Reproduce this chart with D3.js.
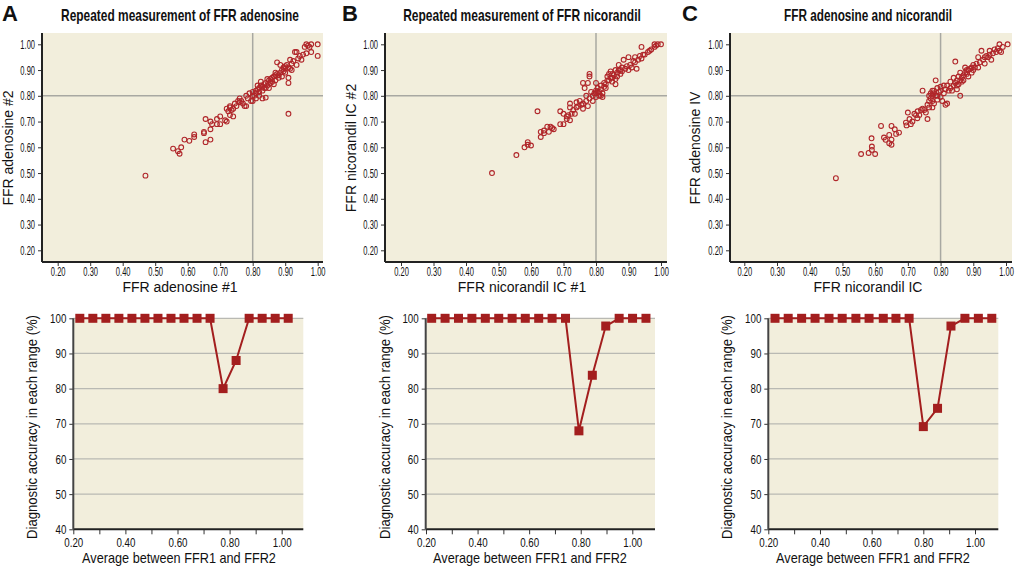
<!DOCTYPE html>
<html>
<head>
<meta charset="utf-8">
<script src="https://cdn.jsdelivr.net/npm/d3@7"></script>
<style>
  body { margin: 0; background: #fff; }
  svg text { fill: #111; }
  .tick text { font-family: 'Liberation Sans', Arial, sans-serif; font-size: 13px; }
  .axlabel { font-family: 'Liberation Sans', Arial, sans-serif; font-size: 14px; }
  .title { font-family: 'Liberation Sans', Arial, sans-serif; font-weight: bold; font-size: 16px; }
  .letter { font-family: 'Liberation Sans', Arial, sans-serif; font-weight: bold; font-size: 22px; }
</style>
</head>
<body>
<svg id="chart" width="1015" height="573"></svg>
<script>
// panel A - adenosine #1 vs #2
const adenosinePairs = [
  [0.47,0.49],[0.555,0.595],[0.57,0.585],[0.575,0.575],[0.58,0.60],[0.59,0.63],[0.605,0.625],[0.62,0.64],
  [0.62,0.65],[0.65,0.655],[0.65,0.66],[0.655,0.62],[0.655,0.71],[0.67,0.63],[0.67,0.67],[0.67,0.70],
  [0.675,0.69],[0.69,0.71],[0.69,0.69],[0.70,0.72],[0.70,0.69],[0.715,0.705],[0.72,0.70],[0.72,0.75],
  [0.725,0.74],[0.73,0.725],[0.73,0.755],[0.735,0.745],[0.74,0.75],[0.74,0.72],[0.75,0.76],[0.755,0.78],
  [0.76,0.775],[0.765,0.78],[0.77,0.77],[0.775,0.76],[0.78,0.76],[0.78,0.80],[0.785,0.79],[0.79,0.81],
  [0.795,0.78],[0.80,0.78],[0.80,0.815],[0.805,0.80],[0.81,0.82],[0.81,0.81],[0.815,0.825],[0.815,0.84],
  [0.82,0.83],[0.82,0.80],[0.825,0.855],[0.83,0.835],[0.83,0.82],[0.83,0.79],[0.835,0.845],[0.84,0.793],
  [0.84,0.83],[0.84,0.85],[0.845,0.84],[0.85,0.86],[0.85,0.83],[0.855,0.865],[0.86,0.87],[0.86,0.855],
  [0.865,0.875],[0.865,0.845],[0.87,0.88],[0.87,0.86],[0.875,0.93],[0.875,0.885],[0.88,0.88],[0.88,0.87],
  [0.885,0.89],[0.885,0.92],[0.89,0.90],[0.89,0.875],[0.895,0.91],[0.895,0.895],[0.90,0.905],[0.90,0.915],
  [0.90,0.89],[0.905,0.92],[0.91,0.91],[0.91,0.85],[0.91,0.87],[0.91,0.73],[0.915,0.94],[0.915,0.905],
  [0.92,0.925],[0.92,0.90],[0.925,0.935],[0.93,0.97],[0.935,0.97],[0.935,0.92],[0.94,0.945],[0.945,0.955],
  [0.95,0.94],[0.955,0.96],[0.96,0.99],[0.965,0.965],[0.965,1.0],[0.97,0.995],[0.975,0.99],[0.98,1.0],
  [0.98,0.97],[1.0,1.0],[1.0,0.955],[0.825,0.84],[0.835,0.83],[0.845,0.865],[0.855,0.85],[0.87,0.89],
  [0.80,0.80],[0.81,0.79],[0.82,0.815],[0.76,0.79],[0.745,0.77],[0.73,0.76]
]

// panel B - nicorandil IC #1 vs #2
const nicorandilPairs = [
  [0.48,0.50],[0.555,0.57],[0.58,0.60],[0.59,0.62],[0.59,0.61],[0.60,0.607],[0.62,0.74],[0.63,0.64],
  [0.63,0.66],[0.64,0.665],[0.64,0.655],[0.65,0.68],[0.655,0.66],[0.66,0.68],[0.665,0.675],[0.67,0.67],
  [0.69,0.74],[0.69,0.69],[0.70,0.69],[0.70,0.73],[0.71,0.72],[0.71,0.71],[0.715,0.725],[0.72,0.705],
  [0.72,0.77],[0.72,0.755],[0.725,0.73],[0.73,0.745],[0.735,0.73],[0.74,0.755],[0.74,0.775],[0.745,0.76],
  [0.75,0.78],[0.755,0.765],[0.76,0.75],[0.76,0.77],[0.76,0.85],[0.765,0.83],[0.77,0.78],[0.77,0.80],
  [0.775,0.76],[0.775,0.85],[0.78,0.875],[0.78,0.885],[0.78,0.79],[0.785,0.815],[0.79,0.78],[0.79,0.80],
  [0.795,0.81],[0.80,0.82],[0.80,0.85],[0.80,0.795],[0.805,0.83],[0.81,0.80],[0.81,0.815],[0.815,0.84],
  [0.815,0.825],[0.82,0.795],[0.82,0.81],[0.825,0.85],[0.83,0.83],[0.83,0.845],[0.835,0.875],[0.84,0.86],
  [0.84,0.885],[0.845,0.87],[0.845,0.895],[0.85,0.87],[0.85,0.855],[0.855,0.88],[0.86,0.845],[0.86,0.90],
  [0.865,0.875],[0.865,0.89],[0.87,0.92],[0.87,0.90],[0.875,0.885],[0.88,0.91],[0.88,0.895],[0.885,0.94],
  [0.89,0.905],[0.895,0.915],[0.90,0.95],[0.90,0.90],[0.905,0.92],[0.91,0.91],[0.915,0.935],[0.92,0.95],
  [0.92,0.93],[0.925,0.905],[0.93,0.94],[0.935,0.955],[0.94,0.99],[0.94,0.945],[0.945,0.96],[0.95,0.96],
  [0.96,0.97],[0.965,0.975],[0.97,0.98],[0.98,1.0],[0.98,0.99],[0.985,0.995],[0.99,1.0],[1.0,1.0],
  [0.805,0.815],[0.815,0.80],[0.825,0.835],[0.835,0.86],[0.85,0.885],[0.86,0.865],[0.875,0.90],[0.80,0.81]
]

// panel C - nicorandil IC vs adenosine IV
const comparisonPairs = [
  [0.48,0.48],[0.557,0.574],[0.58,0.578],[0.59,0.59],[0.59,0.603],[0.60,0.574],[0.589,0.635],[0.618,0.683],
  [0.627,0.638],[0.632,0.629],[0.643,0.648],[0.643,0.616],[0.65,0.63],[0.65,0.61],[0.65,0.683],[0.66,0.67],
  [0.664,0.652],[0.673,0.657],[0.694,0.696],[0.696,0.685],[0.70,0.735],[0.705,0.71],[0.709,0.69],[0.714,0.70],
  [0.72,0.73],[0.725,0.725],[0.729,0.713],[0.73,0.74],[0.735,0.725],[0.74,0.745],[0.745,0.75],[0.745,0.82],
  [0.75,0.745],[0.755,0.735],[0.76,0.765],[0.76,0.71],[0.765,0.755],[0.765,0.78],[0.77,0.79],[0.77,0.81],
  [0.775,0.755],[0.775,0.80],[0.78,0.82],[0.78,0.77],[0.785,0.86],[0.785,0.80],[0.79,0.83],[0.79,0.785],
  [0.795,0.815],[0.80,0.835],[0.80,0.795],[0.805,0.78],[0.81,0.81],[0.81,0.84],[0.815,0.765],[0.815,0.825],
  [0.82,0.77],[0.82,0.84],[0.825,0.82],[0.83,0.83],[0.83,0.855],[0.835,0.82],[0.84,0.87],[0.84,0.84],
  [0.845,0.933],[0.845,0.85],[0.85,0.86],[0.85,0.825],[0.855,0.875],[0.855,0.845],[0.86,0.86],[0.86,0.80],
  [0.86,0.89],[0.865,0.87],[0.87,0.88],[0.87,0.86],[0.875,0.89],[0.875,0.91],[0.88,0.885],[0.885,0.875],
  [0.885,0.90],[0.89,0.905],[0.895,0.89],[0.90,0.92],[0.90,0.90],[0.905,0.91],[0.91,0.925],[0.915,0.95],
  [0.915,0.91],[0.92,0.93],[0.925,0.975],[0.93,0.94],[0.935,0.95],[0.935,0.925],[0.94,0.955],[0.945,0.95],
  [0.95,0.975],[0.95,0.96],[0.955,0.94],[0.96,0.965],[0.965,0.98],[0.97,0.97],[0.975,0.985],[0.98,1.0],
  [0.98,0.975],[0.985,0.97],[0.99,0.99],[1.005,1.0],[0.775,0.78],[0.78,0.81],[0.79,0.80],[0.80,0.82],
  [0.765,0.80],[0.775,0.82],[0.85,0.84],[0.865,0.855],[0.88,0.90],[0.895,0.91]
]

// accuracy in each range (bottom row)
const rangeMidA = [0.225,0.275,0.325,0.375,0.425,0.475,0.525,0.575,0.625,0.675,0.725,0.775,0.825,0.875,0.925,0.975,1.025]
const accuracyA = [100,100,100,100,100,100,100,100,100,100,100,80,88,100,100,100,100]
const rangeMidB = [0.222,0.274,0.326,0.378,0.430,0.482,0.534,0.585,0.637,0.689,0.741,0.793,0.845,0.897,0.949,1.001,1.053]
const accuracyB = [100,100,100,100,100,100,100,100,100,100,100,68,83.8,97.8,100,100,100]
const rangeMidC = [0.226,0.277,0.329,0.381,0.435,0.486,0.539,0.590,0.645,0.694,0.745,0.800,0.855,0.907,0.961,1.013,1.065]
const accuracyC = [100,100,100,100,100,100,100,100,100,100,100,69.2,74.4,97.8,100,100,100]

const scatterTicks = [0.2,0.3,0.4,0.5,0.6,0.7,0.8,0.9,1.0]
const accTicks = [40,50,60,70,80,90,100]
const avgTicks = [0.2,0.3,0.4,0.5,0.6,0.7,0.8,0.9,1.0]

const bg = '#f2eedc',
    red = '#b0262a',
    lineRed = '#a31e1e',
    refGrey = '#a8a8a2',
    gridGrey = '#b9b9b3'

const svg = d3.select('#chart')
const fmt2 = d3.format('.2f')

const panels = [
  { letter: 'A', title: 'Repeated measurement of FFR adenosine', titleW: 238, xl: 'FFR adenosine #1', yl: 'FFR adenosine #2',
    pairs: adenosinePairs, left: 42, right: 323, x02: 57.7, x10: 317.7, center: 180, ylx: 8, letterX: 2,
    bLeft: 73.3, bRight: 303.3, b02: 73.3, b10: 281.7, mids: rangeMidA, acc: accuracyA, bCenter: 179, bylx: 32 },
  { letter: 'B', title: 'Repeated measurement of FFR nicorandil', titleW: 238, xl: 'FFR nicorandil IC #1', yl: 'FFR nicorandil IC #2',
    pairs: nicorandilPairs, left: 385, right: 667, x02: 401, x10: 661, center: 522, ylx: 351, letterX: 342,
    bLeft: 425.7, bRight: 655, b02: 426, b10: 632.3, mids: rangeMidB, acc: accuracyB, bCenter: 530, bylx: 385 },
  { letter: 'C', title: 'FFR adenosine and nicorandil', titleW: 168, xl: 'FFR nicorandil IC', yl: 'FFR adenosine IV',
    pairs: comparisonPairs, left: 730, right: 1012, x02: 744.3, x10: 1006, center: 868, ylx: 695, letterX: 682,
    bLeft: 768.3, bRight: 998.3, b02: 768.3, b10: 975, mids: rangeMidC, acc: accuracyC, bCenter: 873, bylx: 727 }
]

panels.forEach(p => {
  drawScatter(p)
  drawAccuracy(p)
})

// the printed figure uses a narrow face; squeeze the installed sans horizontally
function squeeze(sel, k) {
  sel.each(function() {
    const t = d3.select(this)
    const x0 = +t.attr('x') || 0
    t.attr('x', x0 / k).attr('transform', `scale(${k},1)`)
  })
}

// text squeezed to a target width, placed at (cx, cy), optionally rotated
function narrowText(g, cls, str, cx, cy, width, rot) {
  const t = g.append('text').attr('class', cls).attr('text-anchor', 'middle').text(str)
  const k = Math.min(1, width / t.node().getComputedTextLength())
  t.attr('transform', `translate(${cx},${cy})` + (rot ? ` rotate(${rot})` : '') + ` scale(${k},1)`)
  if (rot) t.attr('dy', '0.35em')
  return t
}

function drawScatter(p) {
  const top = 33, bottom = 262
  const x = d3.scaleLinear().domain([0.2, 1.0]).range([p.x02, p.x10])
  const y = d3.scaleLinear().domain([0.2, 1.0]).range([250.3, 44.3])
  const g = svg.append('g')

  g.append('text').attr('class', 'letter').attr('x', p.letterX).attr('y', 21).text(p.letter)
  narrowText(g, 'title', p.title, p.center, 21, p.titleW)

  g.append('rect')
    .attr('x', p.left).attr('y', top)
    .attr('width', p.right - p.left).attr('height', bottom - top)
    .attr('fill', bg)

  // cut-off lines at 0.80
  g.append('line').attr('x1', x(0.8)).attr('x2', x(0.8)).attr('y1', top).attr('y2', bottom)
    .attr('stroke', refGrey).attr('stroke-width', 1.5)
  g.append('line').attr('x1', p.left).attr('x2', p.right).attr('y1', y(0.8)).attr('y2', y(0.8))
    .attr('stroke', refGrey).attr('stroke-width', 1.5)

  g.selectAll('circle.pt')
    .data(p.pairs)
    .enter().append('circle')
    .attr('class', 'pt')
    .attr('cx', d => x(d[0]))
    .attr('cy', d => y(d[1]))
    .attr('r', 2.4)
    .attr('fill', 'none')
    .attr('stroke', red)
    .attr('stroke-width', 1.1)

  const xAxis = g.append('g').attr('transform', `translate(0,${bottom})`)
    .call(d3.axisBottom(x).tickValues(scatterTicks).tickFormat(fmt2).tickSize(4).tickPadding(1).tickSizeOuter(0))
  xAxis.select('.domain').remove()
  xAxis.append('line').attr('x1', p.left).attr('x2', p.right).attr('stroke', '#222').attr('stroke-width', 2)

  const yAxis = g.append('g').attr('transform', `translate(${p.left},0)`)
    .call(d3.axisLeft(y).tickValues(scatterTicks).tickFormat(fmt2).tickSize(4).tickSizeOuter(0))
  yAxis.select('.domain').remove()
  yAxis.append('line').attr('y1', top).attr('y2', bottom).attr('stroke', '#222').attr('stroke-width', 2)
  g.selectAll('.tick line').attr('stroke', '#333')
  squeeze(g.selectAll('.tick text'), 0.58)

  g.append('text').attr('class', 'axlabel').attr('x', p.center).attr('y', 292)
    .attr('text-anchor', 'middle').text(p.xl)
  g.append('text').attr('class', 'axlabel')
    .attr('transform', `translate(${p.ylx},148) rotate(-90)`)
    .attr('dy', '0.35em').attr('text-anchor', 'middle').text(p.yl)
}

function drawAccuracy(p) {
  const top = 318.3, bottom = 529.3
  const x = d3.scaleLinear().domain([0.2, 1.0]).range([p.b02, p.b10])
  const y = d3.scaleLinear().domain([40, 100]).range([bottom, top])
  const g = svg.append('g')

  g.append('rect')
    .attr('x', p.bLeft).attr('y', top)
    .attr('width', p.bRight - p.bLeft).attr('height', bottom - top)
    .attr('fill', bg)

  g.selectAll('line.grid')
    .data(accTicks.slice(1))
    .enter().append('line')
    .attr('class', 'grid')
    .attr('x1', p.bLeft).attr('x2', p.bRight)
    .attr('y1', d => y(d)).attr('y2', d => y(d))
    .attr('stroke', gridGrey).attr('stroke-width', 1.2)

  const xAxis = g.append('g').attr('transform', `translate(0,${bottom})`)
    .call(d3.axisBottom(x).tickValues(avgTicks)
      .tickFormat(d => Math.round(d * 10) % 2 === 0 ? fmt2(d) : '')
      .tickSize(5).tickSizeOuter(0))
  xAxis.select('.domain').remove()
  xAxis.append('line').attr('x1', p.bLeft).attr('x2', p.bRight).attr('stroke', '#222').attr('stroke-width', 2)

  const yAxis = g.append('g').attr('transform', `translate(${p.bLeft},0)`)
    .call(d3.axisLeft(y).tickValues(accTicks).tickSize(4).tickSizeOuter(0))
  yAxis.select('.domain').remove()
  yAxis.append('line').attr('y1', top).attr('y2', bottom).attr('stroke', '#444').attr('stroke-width', 2)
  g.selectAll('.tick line').attr('stroke', '#333')
  squeeze(g.selectAll('.tick text'), 0.75)

  const pts = p.mids.map((m, i) => [m, p.acc[i]])
  g.append('path')
    .datum(pts)
    .attr('fill', 'none')
    .attr('stroke', lineRed)
    .attr('stroke-width', 2)
    .attr('d', d3.line().x(d => x(d[0])).y(d => y(d[1])))

  g.selectAll('rect.mk')
    .data(pts)
    .enter().append('rect')
    .attr('class', 'mk')
    .attr('x', d => x(d[0]) - 4.5)
    .attr('y', d => y(d[1]) - 4.5)
    .attr('width', 9).attr('height', 9)
    .attr('fill', lineRed)

  narrowText(g, 'axlabel', 'Average between FFR1 and FFR2', p.bCenter, 563, 194)
  narrowText(g, 'axlabel', 'Diagnostic accuracy in each range (%)', p.bylx, 427, 224, -90)
}
</script>
</body>
</html>
